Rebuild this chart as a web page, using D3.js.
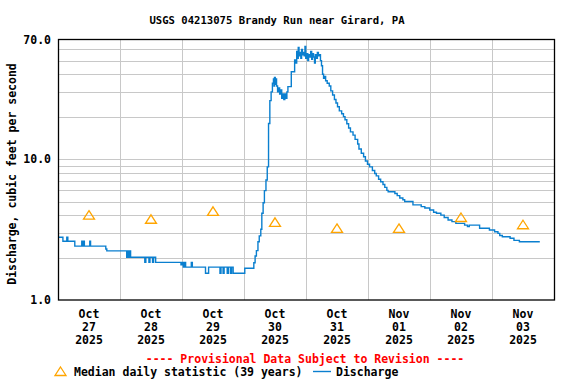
<!DOCTYPE html>
<html>
<head>
<meta charset="utf-8">
<script src="https://cdn.jsdelivr.net/npm/d3@7"></script>
<style>
  html, body { margin: 0; padding: 0; background: #fff; }
  svg { display: block; }
  text { font-family: "DejaVu Sans Mono", monospace; font-weight: bold; }
</style>
</head>
<body>
<svg id="chart" width="576" height="384"></svg>
<script>
// ---------------- DATA ----------------
const title = "USGS 04213075 Brandy Run near Girard, PA";
const yTitle = "Discharge, cubic feet per second";
const provisionalText = "---- Provisional Data Subject to Revision ----";
const medianLabel = "Median daily statistic (39 years)";
const dischargeLabel = "Discharge";

const startDate = Date.UTC(2025, 9, 27); // Oct 27 2025 00:00
const dayCount = 8;

const tickMonths = ["Oct", "Oct", "Oct", "Oct", "Oct", "Nov", "Nov", "Nov"];
const tickDays = ["27", "28", "29", "30", "31", "01", "02", "03"];
const tickYears = ["2025", "2025", "2025", "2025", "2025", "2025", "2025", "2025"];

const yTickValues = [1, 10, 70];
const yTickLabels = ["1.0", "10.0", "70.0"];
const yGridValues = [2, 3, 4, 5, 6, 7, 8, 9, 10, 20, 30, 40, 50, 60];

// median daily statistic, one per day (plotted at noon)
const medianValues = [4.0, 3.74, 4.26, 3.56, 3.22, 3.22, 3.85, 3.42];

// discharge: hours since Oct 27 00:00 and value (cfs), step series
const qHours = [
  0, 1.9, 3.4, 3.8, 6.5, 9.2, 9.6, 9.9, 10.2, 12.3, 12.6, 18.5, 18.9,
  26.6, 27.0, 27.4, 27.8, 28.1, 33.6, 34.0, 35.2, 35.6, 36.6, 37.0, 37.8,
  47.6, 48.0, 48.5, 49.0, 49.4, 51.6, 52.0, 57.1, 58.3, 62.7, 63.1, 63.9,
  64.3, 65.5, 66.0, 66.8, 67.2, 67.8, 72.3,
  75.8, 76.3, 76.8, 77.4, 77.9, 78.5, 78.9, 79.4, 79.9, 80.5, 81.0, 81.5,
  82.0, 82.5, 83.0, 83.4, 83.6, 83.8, 84.1, 84.3, 84.6, 85.0, 85.4, 85.8,
  86.2, 86.6, 87.0, 87.4, 87.8, 88.2, 88.6, 89.0, 90.3, 91.6, 92.0, 92.4,
  92.7, 93.0, 93.3, 93.6, 94.0, 94.3, 94.6, 95.0, 95.3, 95.6, 95.9, 96.3,
  96.7, 97.0, 97.4, 97.8, 98.2, 98.5, 98.9, 99.3, 99.6, 100.0, 100.4, 100.8,
  101.2, 101.6, 102.0, 102.4, 102.8, 103.3, 103.6, 104.2, 105.0, 105.6,
  106.3, 107.0, 107.6, 108.2, 108.9, 109.8, 110.5, 111.1, 111.8, 112.5,
  113.2, 114.2, 115.0, 116.0, 116.5, 117.4, 118.3, 119.0, 119.8, 120.6,
  121.7, 122.6, 123.2, 124.1, 124.9, 125.8, 126.5, 127.3, 127.8, 130.4,
  131.3, 132.3, 133.5, 134.2, 137.4, 140.6, 142.0, 143.9, 145.4, 146.5,
  148.2, 149.5, 151.0, 152.5, 154.0, 157.4, 158.5, 159.2, 163.2, 167.0,
  169.0, 170.3, 171.0, 172.0, 175.0, 176.5, 178.6, 186.5
];
const qValues = [
  2.79, 2.61, 2.79, 2.61, 2.41, 2.61, 2.41, 2.61, 2.41, 2.61, 2.41, 2.30, 2.23,
  2.01, 2.23, 2.01, 2.23, 2.01, 1.85, 2.01, 1.85, 2.01, 1.85, 2.01, 1.85,
  1.78, 1.85, 1.71, 1.85, 1.71, 1.85, 1.71, 1.55, 1.71, 1.55, 1.71, 1.55,
  1.71, 1.55, 1.71, 1.55, 1.71, 1.55, 1.68,
  1.84, 2.05, 2.24, 2.59, 2.85, 3.18, 4.13, 4.9, 5.97, 7.1, 8.8, 17.9,
  26, 30, 34.5, 37, 33, 38, 34, 37, 33, 30, 32, 29,
  31, 27, 29, 26.5, 29, 27, 30, 32.7, 41.7, 50.5, 48, 58,
  52, 62, 54, 57, 52, 60, 55, 57, 54, 63, 52, 56,
  50, 55, 53, 58, 51, 56, 53, 48, 55, 52, 57, 54,
  55, 50, 46, 40, 37.5, 38.6, 36, 34.5, 33, 30.5,
  28.5, 26.5, 25, 23.5, 22, 21, 20, 19, 17.8, 16.6,
  15.6, 14.8, 13.8, 12.8, 11.8, 11.0, 10.4, 9.7, 9.2, 8.8,
  8.3, 7.9, 7.6, 7.2, 6.9, 6.6, 6.3, 6.0, 5.87, 5.7,
  5.5, 5.3, 5.15, 5.0, 4.73, 4.6, 4.5, 4.35, 4.2, 4.13,
  4.0, 3.85, 3.70, 3.6, 3.5, 3.40, 3.32, 3.40, 3.23, 3.14,
  3.05, 2.97, 2.87, 2.81, 2.74, 2.65, 2.59, 2.59
];

// ---------------- CHART ----------------
const svg = d3.select("#chart");
const W = 576, H = 384;
const plot = { left: 58, right: 554, top: 40, bottom: 300 };
const HOUR = 3600e3, DAY = 24 * HOUR;

const x = d3.scaleUtc()
  .domain([new Date(startDate), new Date(startDate + dayCount * DAY)])
  .range([plot.left, plot.right]);
const y = d3.scaleLog()
  .domain([1, 70])
  .range([plot.bottom, plot.top]);

const blue = "#0a7fcf";
const orange = "#ffa500";
const grid = "#c8c8c8";

// title
svg.append("text")
  .attr("x", 277).attr("y", 24)
  .attr("text-anchor", "middle")
  .attr("font-size", "10.6px")
  .text(title);

// horizontal grid
svg.append("g").selectAll("line")
  .data(yGridValues)
  .join("line")
  .attr("x1", plot.left).attr("x2", plot.right)
  .attr("y1", d => Math.round(y(d)) + 0.5)
  .attr("y2", d => Math.round(y(d)) + 0.5)
  .attr("stroke", grid).attr("stroke-width", 1);

// vertical grid at day boundaries
const dayBounds = d3.range(1, dayCount).map(i => new Date(startDate + i * DAY));
svg.append("g").selectAll("line")
  .data(dayBounds)
  .join("line")
  .attr("x1", d => Math.round(x(d)) + 0.5)
  .attr("x2", d => Math.round(x(d)) + 0.5)
  .attr("y1", plot.top).attr("y2", plot.bottom)
  .attr("stroke", grid).attr("stroke-width", 1);

// discharge line
const qData = qHours.map((h, i) => ({ t: new Date(startDate + h * HOUR), v: qValues[i] }));
const line = d3.line()
  .x(d => x(d.t))
  .y(d => y(d.v))
  .curve(d3.curveStepAfter);
svg.append("path")
  .datum(qData)
  .attr("d", line)
  .attr("fill", "none")
  .attr("stroke", blue)
  .attr("stroke-width", 1.4);

// median triangles
const tri = "M0,-4.5L5.5,4L-5.5,4Z";
const medData = medianValues.map((v, i) => ({ t: new Date(startDate + i * DAY + 12 * HOUR), v }));
svg.append("g").selectAll("path")
  .data(medData)
  .join("path")
  .attr("transform", d => `translate(${x(d.t)},${y(d.v)})`)
  .attr("d", tri)
  .attr("fill", "none")
  .attr("stroke", orange)
  .attr("stroke-width", 1.3);

// plot border
svg.append("rect")
  .attr("x", plot.left + 0.5).attr("y", plot.top - 0.5)
  .attr("width", plot.right - plot.left)
  .attr("height", plot.bottom - plot.top + 0.5)
  .attr("fill", "none")
  .attr("stroke", "#000")
  .attr("stroke-width", 1.3);

// y tick labels
svg.append("g").selectAll("text")
  .data(yTickValues)
  .join("text")
  .attr("x", 51)
  .attr("y", d => y(d) + 4)
  .attr("text-anchor", "end")
  .attr("font-size", "11.5px")
  .text((d, i) => yTickLabels[i]);

// y axis title
svg.append("text")
  .attr("transform", `translate(16,${(plot.top + plot.bottom) / 2 + 4}) rotate(-90)`)
  .attr("text-anchor", "middle")
  .attr("font-size", "11.5px")
  .text(yTitle);

// x tick labels (at noon of each day)
const xTicks = d3.range(dayCount).map(i => new Date(startDate + i * DAY + 12 * HOUR));
const xt = svg.append("g").selectAll("text")
  .data(xTicks)
  .join("text")
  .attr("text-anchor", "middle")
  .attr("font-size", "11.5px");
xt.append("tspan").attr("x", d => x(d)).attr("y", 318).text((d, i) => tickMonths[i]);
xt.append("tspan").attr("x", d => x(d)).attr("y", 331).text((d, i) => tickDays[i]);
xt.append("tspan").attr("x", d => x(d)).attr("y", 344).text((d, i) => tickYears[i]);

// provisional text
svg.append("text")
  .attr("x", 305).attr("y", 363)
  .attr("text-anchor", "middle")
  .attr("font-size", "11.5px")
  .attr("fill", "#ff0000")
  .text(provisionalText);

// legend
svg.append("path")
  .attr("transform", "translate(60.5,371.5)")
  .attr("d", tri)
  .attr("fill", "none")
  .attr("stroke", orange)
  .attr("stroke-width", 1.3);
svg.append("text")
  .attr("x", 74).attr("y", 376)
  .attr("font-size", "11.5px")
  .text(medianLabel);
svg.append("line")
  .attr("x1", 313).attr("x2", 331)
  .attr("y1", 371.5).attr("y2", 371.5)
  .attr("stroke", blue).attr("stroke-width", 1.4);
svg.append("text")
  .attr("x", 336).attr("y", 376)
  .attr("font-size", "11.5px")
  .text(dischargeLabel);
</script>
</body>
</html>
